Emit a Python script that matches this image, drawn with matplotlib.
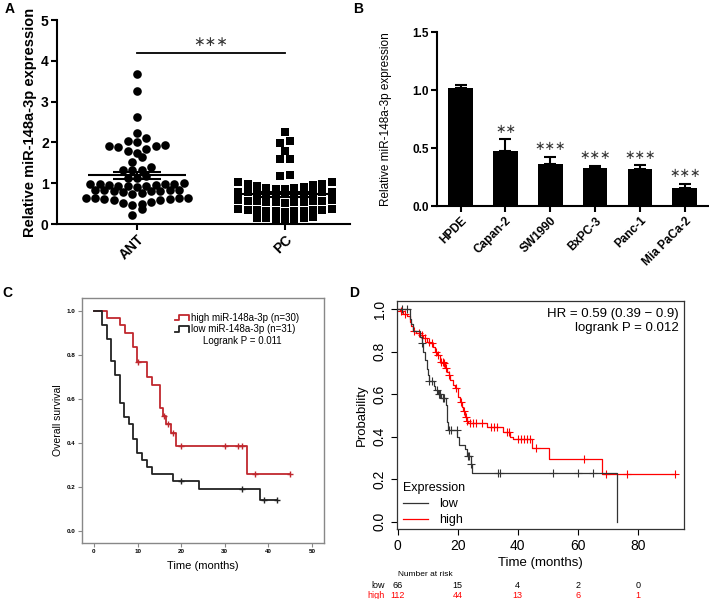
import numpy as np
import matplotlib
matplotlib.use("Agg")
import matplotlib.pyplot as plt
from matplotlib.legend_handler import HandlerBase
from matplotlib.lines import Line2D

plt.rcParams['font.family'] = ['Liberation Sans', 'DejaVu Sans']

# ---- panel A: miR-148a-3p in tissues
ant_values = [3.67, 3.26, 2.62, 2.24, 2.11, 2.03, 2.01, 1.93, 1.91, 1.91, 1.88, 1.85,
              1.79, 1.73, 1.65, 1.52, 1.39, 1.32, 1.32, 1.32, 1.18, 1.13, 1.13,
              1.00, 0.99, 0.99, 0.98, 0.97, 0.96, 0.95, 0.94, 0.93, 0.92, 0.90,
              0.84, 0.84, 0.83, 0.83, 0.82, 0.81, 0.80, 0.78, 0.76, 0.74,
              0.64, 0.64, 0.63, 0.63, 0.62, 0.62, 0.60, 0.59, 0.55, 0.52, 0.50, 0.46,
              0.36, 0.23]
pc_values = [2.26, 2.04, 1.99, 1.78, 1.60, 1.59, 1.19, 1.18,
             1.04, 1.03, 0.99, 0.99, 0.95, 0.94, 0.90, 0.89, 0.88, 0.87, 0.87,
             0.79, 0.79, 0.78, 0.78, 0.77, 0.76, 0.76, 0.75, 0.75, 0.74, 0.73,
             0.58, 0.58, 0.57, 0.57, 0.56, 0.56, 0.55, 0.55, 0.54, 0.53, 0.52,
             0.36, 0.36, 0.35, 0.35, 0.34, 0.34, 0.33, 0.33, 0.32, 0.31, 0.30,
             0.16, 0.15, 0.14, 0.14, 0.13, 0.13, 0.12]
groups = ['ANT', 'PC']

# ---- panel B: cell lines
cell_lines = ['HPDE', 'Capan-2', 'SW1990', 'BxPC-3', 'Panc-1', 'Mia PaCa-2']
cell_expr = [1.02, 0.48, 0.365, 0.328, 0.322, 0.161]
cell_err = [0.03, 0.10, 0.063, 0.02, 0.031, 0.034]
cell_sig = ['', '**', '***', '***', '***', '***']

# ---- panel C: own cohort survival
c_high_t = [0, 2.9, 6.0, 7.1, 9.0, 9.9, 12.1, 13.2, 15.1, 15.9, 16.5, 17.6, 18.9, 35.0]
c_high_s = [1.0, 0.967, 0.933, 0.900, 0.833, 0.767, 0.700, 0.663, 0.557, 0.523, 0.486, 0.444, 0.388, 0.259]
c_high_end = 45
c_high_cens = [10, 16, 17, 18, 20, 30, 33, 34, 37, 45]
c_low_t = [0, 1.9, 2.9, 3.9, 4.9, 6.0, 6.9, 8.0, 9.0, 9.9, 10.9, 12.1, 13.2, 18.2, 24.0, 38.0]
c_low_s = [1.0, 0.935, 0.871, 0.774, 0.710, 0.581, 0.516, 0.484, 0.419, 0.355, 0.323, 0.290, 0.258, 0.226, 0.19, 0.142]
c_low_end = 42
c_low_cens = [20, 34, 39, 42]

# ---- panel D: KM plotter
d_low_t = [0, 4.0, 4.5, 5.0, 7.5, 8.0, 8.6, 9.2, 9.7, 10.0, 10.3, 12.0, 12.5, 13.5, 14.5, 16.0,
           16.3, 16.6, 16.9, 19.9, 20.4, 22.5, 23.0, 24.3, 24.7, 73.0]
d_low_s = [1.0, 0.955, 0.93, 0.90, 0.87, 0.84, 0.80, 0.76, 0.72, 0.69, 0.66, 0.64, 0.62, 0.60, 0.58, 0.55,
           0.51, 0.47, 0.43, 0.40, 0.36, 0.34, 0.31, 0.27, 0.23, 0.0]
d_low_end = 73.0
d_low_cens = [1.3, 3.0, 8.1, 10.5, 11.3, 13.0, 13.7, 14.0, 15.0, 15.5, 17.2, 17.8, 19.7,
              23.3, 23.8, 24.5, 33.5, 34.0, 51.7, 60.2, 65.0]
d_high_t = [0, 0.8, 1.9, 3.0, 4.1, 4.6, 5.2, 6.1, 7.4, 8.5, 9.7, 10.8, 11.9, 12.4, 13.0, 14.1, 15.2,
            15.7, 16.3, 17.0, 17.4, 18.5, 19.1, 20.2, 20.8, 21.3, 21.8, 22.4, 23.0, 23.5, 29.7, 35.2,
            37.4, 38.5, 44.8, 50.5, 68.0]
d_high_s = [1.0, 0.99, 0.98, 0.97, 0.94, 0.92, 0.90, 0.887, 0.879, 0.864, 0.848, 0.84, 0.824, 0.80,
            0.785, 0.754, 0.746, 0.725, 0.707, 0.69, 0.667, 0.645, 0.628, 0.589, 0.565, 0.542, 0.52,
            0.495, 0.475, 0.463, 0.447, 0.424, 0.40, 0.388, 0.345, 0.294, 0.225]
d_high_end = 92.4
d_high_cens = [1.0, 2.5, 5.6, 7.0, 8.0, 9.2, 10.3, 11.3, 12.8, 13.6, 14.5, 15.0, 15.5, 16.0, 17.2,
               19.5, 21.0, 22.0, 22.7, 23.2, 24.0, 25.0, 26.0, 28.0, 31.0, 32.0, 33.0, 36.5, 37.0,
               40.0, 41.0, 42.0, 43.0, 44.0, 46.0, 62.0, 69.5, 76.5, 92.4]
risk_times = [0, 20, 40, 60, 80]
risk_low = [66, 15, 4, 2, 0]
risk_high = [112, 44, 13, 6, 1]

W, H = 709, 599


def box(l, t, r, b):
    return [l / W, 1 - b / H, (r - l) / W, (b - t) / H]


def row_offsets(vals, h=0.215, dx=0.063):
    # prism-like dot plot: points in the same band sit side by side,
    # lowest values in the middle
    vals = np.asarray(vals)
    bins = np.floor(vals / h).astype(int)
    offs = np.zeros(len(vals))
    for b in np.unique(bins):
        idx = np.where(bins == b)[0]
        idx = idx[np.argsort(vals[idx])]
        slots = np.arange(len(idx)) - (len(idx) - 1) / 2
        order = np.argsort(np.abs(slots) + 1e-3 * slots)
        for k, i in enumerate(idx):
            offs[i] = slots[order[k]] * dx
    return offs


def km_curve(ax, t, s, end, cens, color, lw, ms, mew):
    ax.step(list(t) + [end], list(s) + [s[-1]], where='post', color=color, lw=lw)
    t = np.asarray(t)
    s = np.asarray(s)
    cy = s[np.searchsorted(t, cens, side='right') - 1]
    ax.plot(cens, cy, ls='none', marker='+', color=color, ms=ms, mew=mew)


class StepHandler(HandlerBase):
    def create_artists(self, legend, orig_handle, xdescent, ydescent, width, height, fontsize, trans):
        x = np.array([0, 0.25, 0.25, 1.0, 1.0]) * width - xdescent
        y = np.array([0.1, 0.1, 0.9, 0.9, 0.1]) * height - ydescent
        line = Line2D(x, y, color=orig_handle.get_color(), lw=orig_handle.get_linewidth())
        line.set_transform(trans)
        return [line]


fig = plt.figure(figsize=(W / 100, H / 100), dpi=100)
star = ['Liberation Sans', 'DejaVu Sans']

# ================= A
ax = fig.add_axes(box(57, 20, 350, 224))
for i, (vals, mk, ms) in enumerate([(ant_values, 'o', 6.2), (pc_values, 's', 5.15)]):
    vals = np.asarray(vals)
    xs = i + row_offsets(vals)
    ax.plot(xs, vals, ls='none', marker=mk, color='black', ms=ms, mew=0, clip_on=False, zorder=3)
    m = vals.mean()
    sem = vals.std(ddof=1) / np.sqrt(len(vals))
    ax.hlines(m, i - 0.33, i + 0.33, color='black', lw=1.5, zorder=4)
    ax.hlines([m - sem, m + sem], i - 0.16, i + 0.16, color='black', lw=1.5, zorder=4)
    ax.vlines(i, m - sem, m + sem, color='black', lw=1.5, zorder=4)
ax.plot([0, 1], [4.18, 4.18], color='black', lw=1.3)
ax.text(0.5, 4.28, '∗∗∗', ha='center', va='bottom', fontsize=10, color='#333333', family=star)
ax.set_xlim(-0.54, 1.44)
ax.set_ylim(0, 5)
ax.set_yticks(range(6))
ax.set_xticks([0, 1])
ax.set_xticklabels(groups, rotation=45, ha='right', rotation_mode='anchor', fontweight='bold', fontsize=10)
ax.set_ylabel('Relative miR-148a-3p expression', fontsize=10.5, fontweight='bold', va='center')
ax.yaxis.set_label_coords(-0.092, 0.5)
for sp in ['top', 'right']:
    ax.spines[sp].set_visible(False)
for sp in ['left', 'bottom']:
    ax.spines[sp].set_linewidth(1.5)
ax.tick_params(width=1.5, length=4, labelsize=10, pad=2)
for lb in ax.get_yticklabels():
    lb.set_fontweight('bold')
fig.text(5 / W, 1 - 9 / H, 'A', fontsize=10, fontweight='bold', va='center', ha='left')

# ================= B
ax = fig.add_axes(box(437.3, 32.3, 708, 206.3))
xb = np.arange(len(cell_lines))
ax.bar(xb, cell_expr, width=0.55, color='black')
ax.errorbar(xb, cell_expr, yerr=[np.zeros(len(xb)), cell_err], fmt='none', ecolor='black',
            elinewidth=1.5, capsize=4, capthick=1.5)
for x, v, e, s in zip(xb, cell_expr, cell_err, cell_sig):
    if s:
        ax.text(x, v + e + 0.03, s.replace('*', '∗'), ha='center', va='bottom', fontsize=9,
                color='#333333', family=star)
ax.set_xlim(-0.52, 5.52)
ax.set_ylim(0, 1.5)
ax.set_yticks([0, 0.5, 1.0, 1.5])
ax.set_yticklabels(['0.0', '0.5', '1.0', '1.5'], fontweight='bold')
ax.set_xticks(xb)
ax.set_xticklabels(cell_lines, rotation=45, ha='right', rotation_mode='anchor', fontweight='bold', fontsize=8.5)
ax.set_ylabel('Relative miR-148a-3p expression', fontsize=8.5, va='center')
ax.yaxis.set_label_coords(-0.19, 0.5)
for sp in ['top', 'right']:
    ax.spines[sp].set_visible(False)
for sp in ['left', 'bottom']:
    ax.spines[sp].set_linewidth(1.5)
ax.tick_params(width=1.5, length=4, labelsize=8.5, pad=2)
fig.text(353 / W, 1 - 9 / H, 'B', fontsize=10, fontweight='bold', va='center', ha='left')

# ================= C
ax = fig.add_axes(box(82, 298.3, 324.3, 542.7))
red_c = '#c0282e'
km_curve(ax, c_high_t, c_high_s, c_high_end, c_high_cens, red_c, 1.3, 5, 1.0)
km_curve(ax, c_low_t, c_low_s, c_low_end, c_low_cens, '#222222', 1.3, 5, 1.0)
ax.set_xlim(-2.75, 52.8)
ax.set_ylim(-0.052, 1.056)
ax.set_xticks(range(0, 51, 10))
ax.set_yticks([0, 0.2, 0.4, 0.6, 0.8, 1.0])
ax.set_yticklabels(['0.0', '0.2', '0.4', '0.6', '0.8', '1.0'])
for sp in ax.spines.values():
    sp.set_color('#888888')
    sp.set_linewidth(1.0)
ax.tick_params(length=3, width=0.8, color='#888888', labelsize=4.5, pad=1.5)
for lb in ax.get_xticklabels() + ax.get_yticklabels():
    lb.set_fontweight('bold')
ax.set_xlabel('Time (months)', fontsize=8, va='center')
ax.xaxis.set_label_coords(0.5, -0.095)
ax.set_ylabel('Overall survival', fontsize=7.5, va='center')
ax.yaxis.set_label_coords(-0.099, 0.5)
hh = [Line2D([], [], color=red_c, lw=1.3), Line2D([], [], color='#222222', lw=1.3)]
ax.legend(hh, ['high miR-148a-3p (n=30)', 'low miR-148a-3p (n=31)'], loc='upper left',
          bbox_to_anchor=(0.385, 0.94), frameon=False, fontsize=7, handlelength=1.4,
          handletextpad=0.2, borderpad=0, borderaxespad=0, labelspacing=0.15,
          handler_map={Line2D: StepHandler()})
ax.text(0.66, 0.826, 'Logrank P = 0.011', transform=ax.transAxes, ha='center', va='center', fontsize=7)
fig.text(2 / W, 1 - 293 / H, 'C', fontsize=10, fontweight='bold', va='center', ha='left')

# ================= D
ax = fig.add_axes(box(396.7, 301, 684.3, 529.3))
km_curve(ax, d_high_t, d_high_s, d_high_end, d_high_cens, 'red', 0.9, 6, 0.8)
km_curve(ax, d_low_t, d_low_s, d_low_end, d_low_cens, '#333333', 0.9, 6, 0.8)
ax.set_xlim(-0.3, 95.5)
ax.set_ylim(-0.036, 1.039)
ax.set_xticks(risk_times)
ax.set_yticks([0, 0.2, 0.4, 0.6, 0.8, 1.0])
ax.set_yticklabels(['0.0', '0.2', '0.4', '0.6', '0.8', '1.0'], rotation=90, va='center')
for sp in ax.spines.values():
    sp.set_color('#333333')
    sp.set_linewidth(0.9)
ax.tick_params(length=4, width=0.8, labelsize=10, pad=3)
ax.set_xlabel('Time (months)', fontsize=9.5, va='center')
ax.xaxis.set_label_coords(0.5, -0.148)
ax.set_ylabel('Probability', fontsize=9.5, va='center')
ax.yaxis.set_label_coords(-0.122, 0.5)
ax.text(0.979, 0.943, 'HR = 0.59 (0.39 − 0.9)', transform=ax.transAxes, ha='right', va='center', fontsize=9.5)
ax.text(0.979, 0.882, 'logrank P = 0.012', transform=ax.transAxes, ha='right', va='center', fontsize=9.5)
lh = [Line2D([], [], color='#333333', lw=0.9), Line2D([], [], color='red', lw=0.9)]
ax.legend(lh, ['low', 'high'], title='Expression', title_fontsize=9, fontsize=9, loc='upper left',
          bbox_to_anchor=(0.022, 0.205), frameon=False, handlelength=2.0, handletextpad=0.9,
          borderpad=0, borderaxespad=0, labelspacing=0.3, alignment='left')
tr = ax.get_xaxis_transform()
ax.text(0, -0.2, 'Number at risk', transform=tr, ha='left', va='center', fontsize=6)
ax.text(-4.2, -0.244, 'low', transform=tr, ha='right', va='center', fontsize=6.5)
ax.text(-4.2, -0.288, 'high', transform=tr, ha='right', va='center', fontsize=6.5, color='red')
for t, nl, nh in zip(risk_times, risk_low, risk_high):
    ax.text(t, -0.244, str(nl), transform=tr, ha='center', va='center', fontsize=6.5)
    ax.text(t, -0.288, str(nh), transform=tr, ha='center', va='center', fontsize=6.5, color='red')
fig.text(349 / W, 1 - 293 / H, 'D', fontsize=10, fontweight='bold', va='center', ha='left')

fig.savefig('out.png', dpi=100)
